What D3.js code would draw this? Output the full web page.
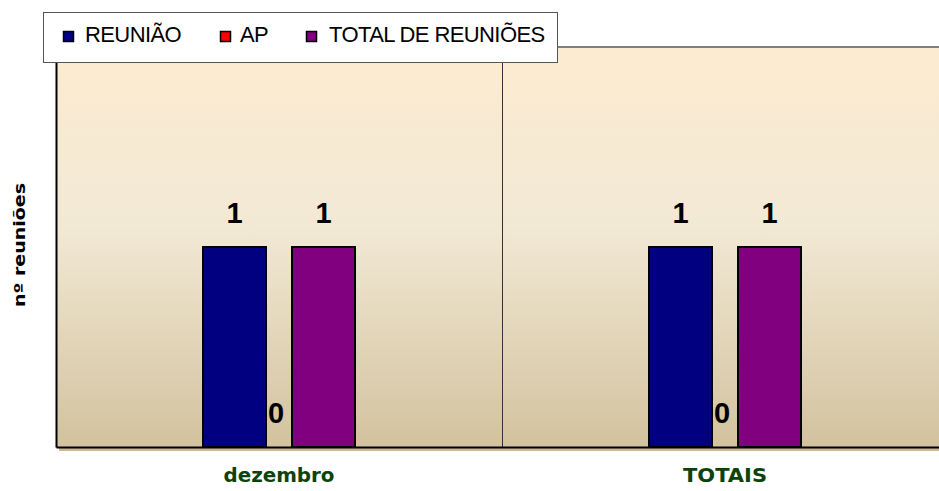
<!DOCTYPE html>
<html>
<head>
<meta charset="utf-8">
<script src="https://cdn.jsdelivr.net/npm/d3@7"></script>
<style>
  body { margin: 0; background: #fff; }
  svg { display: block; font-family: "Liberation Sans", Arial, sans-serif; }
</style>
</head>
<body>
<div id="wrapper"></div>
<script>
// data
const categories = ["dezembro", "TOTAIS"];
const seriesNames = ["REUNIÃO", "AP", "TOTAL DE REUNIÕES"];
const reuniao = [1, 1];
const ap = [0, 0];
const totalReunioes = [1, 1];
const yTicks = [0, 1, 2];

const seriesValues = [reuniao, ap, totalReunioes];
const colors = ["#000080", "#ff0000", "#800080"];

function drawChart() {
  const dimensions = {
    width: 939,
    height: 491,
    margin: { top: 47, right: -9, bottom: 44, left: 56 },
  };
  dimensions.boundedWidth =
    dimensions.width - dimensions.margin.left - dimensions.margin.right;
  dimensions.boundedHeight =
    dimensions.height - dimensions.margin.top - dimensions.margin.bottom;

  const wrapper = d3
    .select("#wrapper")
    .append("svg")
    .attr("width", dimensions.width)
    .attr("height", dimensions.height);

  const defs = wrapper.append("defs");
  const grad = defs
    .append("linearGradient")
    .attr("id", "bg")
    .attr("x1", 0).attr("y1", 0).attr("x2", 0).attr("y2", 1);
  grad.append("stop").attr("offset", "0%").attr("stop-color", "#fcebd0");
  grad.append("stop").attr("offset", "45%").attr("stop-color", "#f2e9d5");
  grad.append("stop").attr("offset", "100%").attr("stop-color", "#d2c29e");

  const bounds = wrapper
    .append("g")
    .attr("transform", `translate(${dimensions.margin.left}, ${dimensions.margin.top})`);

  // scales
  const xScale = d3
    .scaleBand()
    .domain(categories)
    .range([0, dimensions.boundedWidth])
    .padding(0);

  const yScale = d3
    .scaleLinear()
    .domain([yTicks[0], yTicks[yTicks.length - 1]])
    .range([dimensions.boundedHeight, 0]);

  const seriesScale = d3.scalePoint().domain(seriesNames).range([-44.5, 44.5]);
  const barWidth = 63;

  // plot area shadow + background
  bounds
    .append("rect")
    .attr("x", 3)
    .attr("y", 3)
    .attr("width", dimensions.boundedWidth)
    .attr("height", dimensions.boundedHeight + 1)
    .attr("fill", "#c9b995");

  bounds
    .append("rect")
    .attr("width", dimensions.boundedWidth)
    .attr("height", dimensions.boundedHeight)
    .attr("fill", "url(#bg)");

  bounds
    .append("line")
    .attr("x1", 0)
    .attr("x2", dimensions.boundedWidth)
    .attr("y1", 0)
    .attr("y2", 0)
    .attr("stroke", "#808080")
    .attr("stroke-width", 2);

  // category dividers
  bounds
    .append("g")
    .selectAll("line")
    .data(categories.slice(1))
    .join("line")
    .attr("x1", (d) => xScale(d) + 0.5)
    .attr("x2", (d) => xScale(d) + 0.5)
    .attr("y1", 0)
    .attr("y2", dimensions.boundedHeight)
    .attr("stroke", "#333")
    .attr("stroke-width", 1);

  // bars
  const barData = [];
  seriesNames.forEach((s, i) => {
    categories.forEach((c, j) => {
      barData.push({ series: s, category: c, value: seriesValues[i][j], color: colors[i] });
    });
  });

  const barX = (d) =>
    xScale(d.category) + xScale.bandwidth() / 2 + seriesScale(d.series);

  bounds
    .append("g")
    .selectAll("rect")
    .data(barData.filter((d) => d.value > 0))
    .join("rect")
    .attr("x", (d) => barX(d) - barWidth / 2)
    .attr("y", (d) => yScale(d.value))
    .attr("width", barWidth)
    .attr("height", (d) => dimensions.boundedHeight - yScale(d.value))
    .attr("fill", (d) => d.color)
    .attr("stroke", "#000")
    .attr("stroke-width", 2);

  bounds
    .append("g")
    .selectAll("text")
    .data(barData)
    .join("text")
    .attr("x", (d) => barX(d) - (d.value === 0 ? 3 : 0))
    .attr("y", (d) => yScale(d.value) - 24)
    .attr("text-anchor", "middle")
    .style("font-size", "29px")
    .style("font-weight", "bold")
    .attr("fill", "#000")
    .text((d) => d.value);

  // axes
  const xAxisGenerator = d3.axisBottom(xScale).tickSize(0).tickPadding(22);
  const xAxis = bounds
    .append("g")
    .attr("transform", `translate(0, ${dimensions.boundedHeight})`)
    .call(xAxisGenerator);
  xAxis.select(".domain").attr("stroke", "#000").attr("stroke-width", 2);
  xAxis
    .selectAll("text")
    .attr("fill", "#0b430b")
    .style("font-family", "'DejaVu Sans', sans-serif")
    .style("font-weight", "bold")
    .style("font-size", "19px")
    .attr("textLength", (d) => (d === "TOTAIS" ? 84 : 111))
    .attr("lengthAdjust", "spacingAndGlyphs");

  const yAxisGenerator = d3.axisLeft(yScale).tickValues([]).tickSizeOuter(0);
  const yAxis = bounds.append("g").call(yAxisGenerator);
  yAxis.select(".domain").attr("stroke", "#000").attr("stroke-width", 2);

  bounds
    .append("text")
    .attr("transform", `translate(${-31}, ${dimensions.boundedHeight / 2 - 2}) rotate(-90)`)
    .attr("text-anchor", "middle")
    .style("font-family", "'DejaVu Sans', sans-serif")
    .style("font-weight", "900")
    .style("font-size", "16px")
    .attr("textLength", 124)
    .attr("lengthAdjust", "spacingAndGlyphs")
    .attr("fill", "#000")
    .text("nº reuniões");

  // legend
  const legend = wrapper.append("g").attr("transform", "translate(43, 12)");
  legend
    .append("rect")
    .attr("x", 0.5)
    .attr("y", 0.5)
    .attr("width", 514)
    .attr("height", 50)
    .attr("fill", "#fff")
    .attr("stroke", "#555");

  const legendX = [20, 177, 263];
  const items = legend
    .selectAll("g.item")
    .data(seriesNames)
    .join("g")
    .attr("class", "item")
    .attr("transform", (d, i) => `translate(${legendX[i]}, 0)`);
  items
    .append("rect")
    .attr("x", 0.5)
    .attr("y", 19.5)
    .attr("width", 10)
    .attr("height", 10)
    .attr("fill", (d, i) => colors[i])
    .attr("stroke", "#000")
    .attr("stroke-width", 1.5);
  items
    .append("text")
    .attr("x", (d, i) => [22, 20, 23][i])
    .attr("y", 30)
    .style("font-size", "22px")
    .style("letter-spacing", "-0.6px")
    .attr("fill", "#000")
    .text((d) => d);
}
drawChart();
</script>
</body>
</html>
